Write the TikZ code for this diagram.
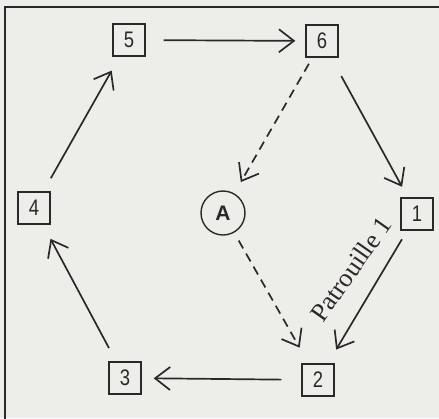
\documentclass[tikz,border=0pt]{standalone}
\usepackage{fontspec}
\usetikzlibrary{arrows.meta}
\newfontfamily\digitfont[FakeStretch=0.82]{Liberation Sans}
\newfontfamily\posfont{Liberation Sans Bold}
\newfontfamily\labelfont{Liberation Serif}
\definecolor{paper}{RGB}{237,237,233}
\definecolor{ink}{RGB}{45,40,40}
\tikzset{
  numbox/.style={draw=ink, line width=1.4pt, minimum size=32pt, inner sep=0pt,
    font=\digitfont\fontsize{22.5}{22.5}\selectfont, text=ink},
  posnode/.style={draw=ink, line width=1.4pt, circle, minimum size=44pt, inner sep=0pt,
    font=\posfont\fontsize{21}{21}\selectfont, text=ink},
  route/.style={draw=ink, line width=1.7pt, -{Straight Barb[length=15pt,width=23pt,line width=1.7pt]}},
  dashroute/.style={route, dash pattern=on 9pt off 6pt},
  frameline/.style={draw=ink, line width=1.4pt}
}
\begin{document}
\begin{tikzpicture}[x=1pt,y=-1pt]
\fill[paper] (0,0) rectangle (439,418);
\useasboundingbox (0,0) rectangle (439,418);
\coordinate (fbl) at (5,419);
\coordinate (ftl) at (5,7);
\coordinate (ftr) at (440,7);
\draw[frameline] (fbl) -- (ftl) -- (ftr);

\node[numbox] (n5) at (129,40) {5};
\node[numbox] (n6) at (322,41) {6};
\node[numbox] (n4) at (34,208) {4};
\node[numbox] (n1) at (417,214) {1};
\node[numbox] (n3) at (125,378) {3};
\node[numbox] (n2) at (318,380) {2};
\node[posnode] (A) at (223,213) {A};

\draw[route, shorten <=18pt, shorten >=10pt] (n5) -- (n6);
\draw[route, shorten <=21pt, shorten >=12pt] (n6) -- (n1);
\draw[route, shorten <=10pt, shorten >=16pt] (n1) -- (n2);
\draw[route, shorten <=20pt, shorten >=12pt] (n2) -- (n3);
\draw[route, shorten <=15pt, shorten >=16pt] (n3) -- (n4);
\draw[route, shorten <=15pt, shorten >=16pt] (n4) -- (n5);
\draw[dashroute, shorten <=7pt, shorten >=13pt] (n6) -- (A);
\draw[dashroute, shorten <=9pt, shorten >=18pt] (A) -- (n2);

\node[rotate=55, text=ink, font=\labelfont\fontsize{26}{26}\selectfont, inner sep=0pt] (lab) at (351,269) {Patrouille 1};
\end{tikzpicture}
\end{document}
